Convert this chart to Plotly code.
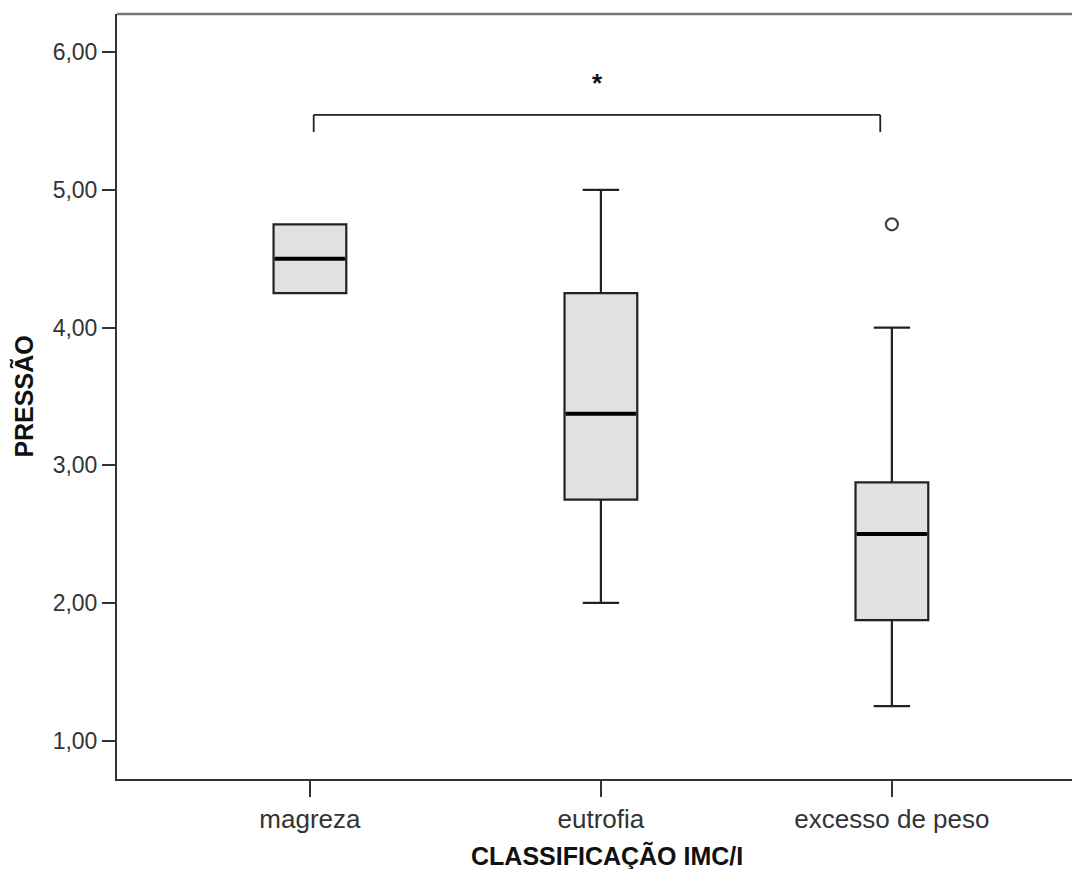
import plotly.graph_objects as go

categories = ["magreza", "eutrofia", "excesso de peso"]
q1 = [4.25, 2.75, 1.875]
median = [4.50, 3.375, 2.50]
q3 = [4.75, 4.25, 2.875]
lower = [4.25, 2.00, 1.25]
upper = [4.75, 5.00, 4.00]
outlier_cat = [2]
outlier_val = [4.75]
y_ticks = [1, 2, 3, 4, 5, 6]
sig_from, sig_to, sig_label = 0, 2, "*"

pos = list(range(len(categories)))
bw = 0.25

fig = go.Figure()
fig.add_trace(go.Box(
    x=pos, q1=q1, median=median, q3=q3, lowerfence=lower, upperfence=upper,
    width=bw, whiskerwidth=0.5, fillcolor="#e1e1e1",
    line=dict(color="#222222", width=2.2), boxpoints=False, showlegend=False,
    hoverinfo="skip"))
for i, m in zip(pos, median):
    fig.add_trace(go.Scatter(x=[i - bw / 2 + 0.005, i + bw / 2 - 0.005], y=[m, m], mode="lines",
                             line=dict(color="black", width=4), showlegend=False, hoverinfo="skip"))
fig.add_trace(go.Scatter(x=outlier_cat, y=outlier_val, mode="markers",
                         marker=dict(symbol="circle-open", size=12, color="#444444",
                                     line=dict(width=2.2, color="#444444")),
                         showlegend=False, hoverinfo="skip"))

# significance bracket
bt, bb = 5.545, 5.42
fig.add_shape(type="line", xref="x", yref="y", x0=sig_from + 0.013, x1=sig_from + 0.013, y0=bb, y1=bt,
              line=dict(color="#222", width=1.8))
fig.add_shape(type="line", xref="x", yref="y", x0=sig_from + 0.013, x1=sig_to - 0.04, y0=bt, y1=bt,
              line=dict(color="#222", width=1.8))
fig.add_shape(type="line", xref="x", yref="y", x0=sig_to - 0.04, x1=sig_to - 0.04, y0=bb, y1=bt,
              line=dict(color="#222", width=1.8))
fig.add_annotation(x=(sig_from + sig_to) / 2 - 0.01, y=5.78, xref="x", yref="y", text="<b>" + sig_label + "</b>",
                   showarrow=False, font=dict(size=26, color="#111", family="Liberation Sans"))

# top border
fig.add_shape(type="line", xref="paper", yref="paper", x0=0, x1=1, y0=1, y1=1,
              line=dict(color="#777", width=2.5))

fig.add_annotation(x=1.02, xref="x", y=-0.1, yref="paper", text="<b>CLASSIFICAÇÃO IMC/I</b>",
                   showarrow=False, yanchor="middle",
                   font=dict(size=25, color="#111", family="Liberation Sans"))

fig.update_layout(
    width=1072, height=869,
    margin=dict(l=117, r=0, t=14, b=90),
    plot_bgcolor="white", paper_bgcolor="white",
    separators=",.",
    font=dict(family="Liberation Sans", size=23, color="#333"),
    xaxis=dict(range=[-0.663, 2.619], tickvals=pos, ticktext=categories,
               showgrid=False, zeroline=False, showline=True, linecolor="#333", linewidth=2,
               ticks="outside", ticklen=16, tickwidth=2, tickcolor="#333",
               tickfont=dict(size=26, color="#333")),
    yaxis=dict(range=[0.721, 6.278], tickvals=y_ticks, tickformat=".2f",
               showgrid=False, zeroline=False, showline=True, linecolor="#333", linewidth=2,
               ticks="outside", ticklen=13, tickwidth=2, tickcolor="#333",
               tickfont=dict(size=23, color="#333"),
               title=dict(text="<b>PRESSÃO</b>", font=dict(size=25, color="#111"), standoff=12)),
)

fig.write_html("out.html", config={"displayModeBar": False},
               post_script="document.body.style.margin='0';document.body.style.overflow='hidden';")
